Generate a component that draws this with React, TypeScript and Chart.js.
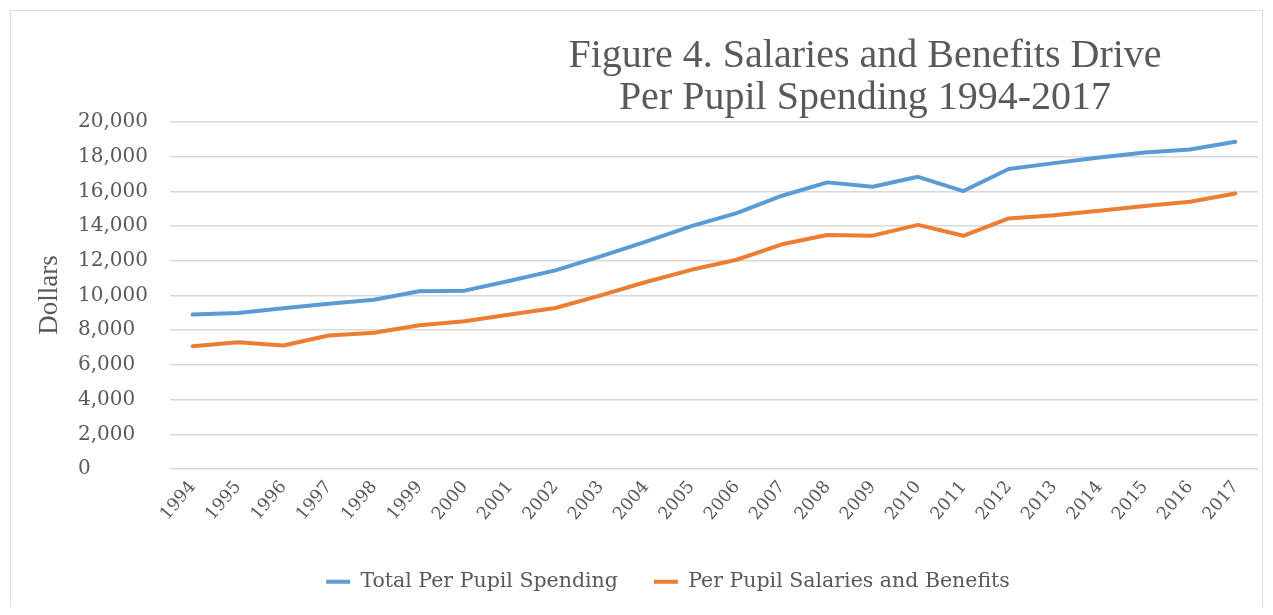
import React, { useEffect, useRef } from 'react';
import { Chart, registerables } from 'chart.js';

Chart.register(...registerables);

const years = [
  '1994', '1995', '1996', '1997', '1998', '1999', '2000', '2001', '2002', '2003', '2004', '2005',
  '2006', '2007', '2008', '2009', '2010', '2011', '2012', '2013', '2014', '2015', '2016', '2017',
];

const totalSpending = [
  8900, 8990, 9260, 9520, 9760, 10240, 10280, 10850, 11450, 12250, 13100, 14000,
  14750, 15750, 16520, 16270, 16840, 16020, 17290, 17630, 17950, 18240, 18410, 18860,
];

const salariesBenefits = [
  7080, 7310, 7120, 7690, 7850, 8290, 8520, 8900, 9280, 10010, 10780, 11480,
  12060, 12950, 13490, 13450, 14070, 13440, 14440, 14620, 14890, 15160, 15400, 15880,
];

const seriesNames = ['Total Per Pupil Spending', 'Per Pupil Salaries and Benefits'];
const titleLines = ['Figure 4. Salaries and Benefits Drive', 'Per Pupil Spending 1994-2017'];
const yAxisTitle = 'Dollars';
const yMin = 0;
const yMax = 20000;
const yStep = 2000;

const TEXT = '#595959';
const BLUE = '#5b9bd5';
const ORANGE = '#ed7d31';

export default function App() {
  const ref = useRef<HTMLCanvasElement>(null);

  useEffect(() => {
    if (!ref.current) return;
    const chart = new Chart(ref.current, {
      type: 'line',
      data: {
        labels: years,
        datasets: [
          {
            label: seriesNames[0],
            data: totalSpending,
            borderColor: BLUE,
            backgroundColor: BLUE,
            borderWidth: 4,
            pointRadius: 0,
            tension: 0,
            borderJoinStyle: 'round',
            borderCapStyle: 'round',
          },
          {
            label: seriesNames[1],
            data: salariesBenefits,
            borderColor: ORANGE,
            backgroundColor: ORANGE,
            borderWidth: 4,
            pointRadius: 0,
            tension: 0,
            borderJoinStyle: 'round',
            borderCapStyle: 'round',
          },
        ],
      },
      options: {
        responsive: false,
        animation: false,
        layout: { padding: { top: 114, left: 70, right: 7, bottom: 5 } },
        plugins: {
          legend: {
            position: 'bottom',
            labels: {
              boxWidth: 24,
              boxHeight: 4,
              padding: 36,
              color: TEXT,
              font: { family: 'DejaVu Serif', size: 20.5 },
              generateLabels: (c: any) => {
                const items = (Chart as any).defaults.plugins.legend.labels.generateLabels(c);
                return items.map((it: any) => ({ ...it, lineWidth: 0, fillStyle: it.strokeStyle }));
              },
            },
          },
          tooltip: { enabled: false },
          title: { display: false },
        },
        scales: {
          x: {
            offset: true,
            grid: { display: false, drawTicks: false },
            border: { display: false },
            ticks: {
              color: TEXT,
              font: { family: 'DejaVu Serif', size: 17.5 },
              maxRotation: 50,
              minRotation: 50,
              autoSkip: false,
              padding: 8,
            },
            afterFit: (s: any) => {
              s.height = 66.5;
            },
          },
          y: {
            min: yMin,
            max: yMax,
            ticks: {
              stepSize: yStep,
              crossAlign: 'far',
              color: TEXT,
              font: { family: 'DejaVu Serif', size: 20 },
              callback: (v: any) => Number(v).toLocaleString('en-US'),
            },
            grid: { color: '#d9d9d9', lineWidth: 1.5, drawTicks: false },
            border: { display: false },
            afterFit: (s: any) => {
              s.width = 92;
            },
          },
        },
      },
    });
    return () => chart.destroy();
  }, []);

  return (
    <div style={{ position: 'relative', width: 1257, height: 599 }}>
      <div
        style={{
          position: 'absolute',
          left: 2,
          top: 2,
          width: 1253,
          height: 597,
          boxSizing: 'border-box',
          border: '1px solid #dedede',
          borderBottom: 'none',
        }}
      />
      <canvas
        ref={ref}
        width={1257}
        height={599}
        style={{ position: 'absolute', left: 0, top: 0, display: 'block' }}
      />
      <div
        style={{
          position: 'absolute',
          left: 457,
          top: 25,
          width: 800,
          textAlign: 'center',
          fontFamily: '"Liberation Serif", serif',
          fontSize: 40,
          lineHeight: '42px',
          color: TEXT,
          whiteSpace: 'nowrap',
        }}
      >
        <div>{titleLines[0]}</div>
        <div>{titleLines[1]}</div>
      </div>
      <div
        style={{
          position: 'absolute',
          left: 40 - 60,
          top: 287 - 16,
          width: 120,
          height: 32,
          lineHeight: '32px',
          textAlign: 'center',
          transform: 'rotate(-90deg)',
          fontFamily: '"Liberation Serif", serif',
          fontSize: 27,
          color: TEXT,
          whiteSpace: 'nowrap',
        }}
      >
        {yAxisTitle}
      </div>
    </div>
  );
}
